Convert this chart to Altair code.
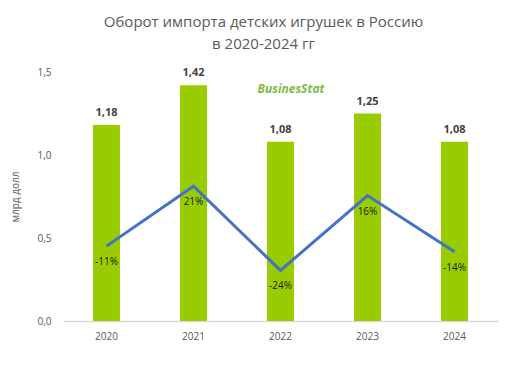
import altair as alt
import pandas as pd

years = ["2020", "2021", "2022", "2023", "2024"]
turnover = [1.18, 1.42, 1.08, 1.25, 1.08]
growth = [-11, 21, -24, 16, -14]

df = pd.DataFrame({"year": years, "value": turnover, "growth": growth})

FONT = "Open Sans"
GRAY = "#595959"

x = alt.X("year:N", title=None, scale=alt.Scale(paddingInner=0.69, paddingOuter=0.345),
          axis=alt.Axis(labelAngle=0, ticks=False, domainColor="#d9d9d9", domainWidth=1.5,
                        labelColor=GRAY, labelFont=FONT, labelFontSize=10, labelPadding=10))

base = alt.Chart(df)

bars = base.mark_bar(color="#99CC00").encode(
    x=x,
    y=alt.Y("value:Q", title="млрд  долл", scale=alt.Scale(domain=[0, 1.5], nice=False),
            axis=alt.Axis(values=[0, 0.5, 1.0, 1.5], grid=False, domain=False, ticks=False,
                          labelExpr="replace(format(datum.value, '.1f'), '.', ',')",
                          labelColor=GRAY, labelFont=FONT, labelFontSize=10, labelPadding=12,
                          titleColor=GRAY, titleFont=FONT, titleFontSize=10,
                          titleFontWeight="normal", titlePadding=16)),
)

bar_labels = base.transform_calculate(
    lbl="replace(format(datum.value, '.2f'), '.', ',')"
).mark_text(dy=-12, fontWeight="bold", fontSize=11, font=FONT, color="#404040").encode(
    x=x, y=alt.Y("value:Q"), text="lbl:N"
)

yline = alt.Y("growth:Q", scale=alt.Scale(domain=[-51, 82], nice=False, zero=False), axis=None)

line = base.mark_line(color="#4472C4", strokeWidth=3).encode(x=x, y=yline)

line_labels = base.transform_calculate(
    lbl="toString(datum.growth) + '%'"
).mark_text(dy=16, fontSize=10, font=FONT, color="#1a1a1a").encode(
    x=x, y=yline, text="lbl:N"
)

watermark = alt.Chart(pd.DataFrame({"t": ["BusinesStat"]})).mark_text(
    fontSize=12, fontWeight="bold", fontStyle="italic", font=FONT, color="#7DBB42"
).encode(x=alt.value(228), y=alt.value(17), text="t:N")

chart = alt.layer(
    alt.layer(bars, bar_labels),
    alt.layer(line, line_labels),
    watermark,
).resolve_scale(y="independent").properties(
    width=435,
    height=249,
    autosize=alt.AutoSizeParams(type="none"),
    padding={"left": 55, "top": 64, "right": 21, "bottom": 37},
    title=alt.TitleParams(
        ["Оборот импорта детских игрушек в Россию", "в 2020-2024 гг"],
        anchor="middle", dx=-17, offset=15, fontSize=15, font=FONT,
        fontWeight="normal", color=GRAY, lineHeight=22,
    ),
).configure_view(stroke=None)

chart.save("out.html", embed_options={"renderer": "svg", "actions": False})
